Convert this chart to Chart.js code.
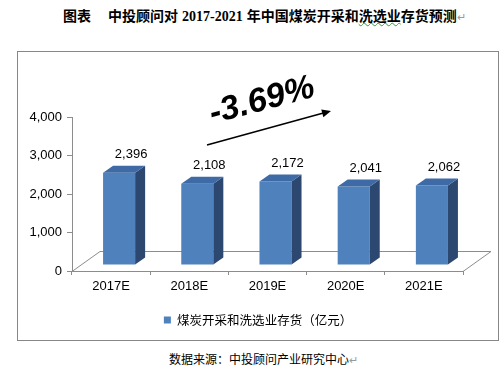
<!DOCTYPE html>
<html>
<head>
<meta charset="utf-8">
<script src="https://cdn.jsdelivr.net/npm/chart.js@4"></script>
<style>
  html, body { margin: 0; padding: 0; background: #fff; }
  body { width: 502px; height: 372px; position: relative; overflow: hidden; }
  #title {
    position: absolute; left: 63px; top: 5px; white-space: nowrap;
    font: bold 14px "Noto Sans CJK SC", sans-serif; color: #000;
  }
  #title .num { font-family: "Liberation Serif", serif; font-weight: bold; margin: 0 4px 0 4px; }
  #title .gap { display: inline-block; width: 17px; }
  #title .wavy { text-decoration: underline wavy #3a9a3a; text-decoration-thickness: 1px; }
  .mark { color: #999; font-weight: normal; font-size: 11px; }
  #frame {
    position: absolute; left: 17px; top: 51px; width: 480px; height: 288px;
    border: 1px solid #878787;
  }
  #source {
    position: absolute; left: 169px; top: 351px; white-space: nowrap;
    font: 12px "Noto Sans CJK SC", sans-serif; color: #000; line-height: 16px;
  }
</style>
</head>
<body>
<div id="title">图表<span class="gap"></span>中投顾问对<span class="num">2017-2021</span>年中国煤炭开采和<span class="wavy">洗选业</span>存货预测<span class="mark">↵</span></div>
<div id="frame"><canvas id="chart" width="480" height="288"></canvas></div>
<div id="source">数据来源：中投顾问产业研究中心<span class="mark">↵</span></div>
<script>
// chart data
const years = ["2017E", "2018E", "2019E", "2020E", "2021E"];
const inventory = [2396, 2108, 2172, 2041, 2062];
const seriesName = "煤炭开采和洗选业存货（亿元）";
const growthLabel = "-3.69%";

// 3D look: bars sit in the middle of the floor depth
const barShift = { x: 8, y: -6 };
const barDepth = { x: 10, y: -7 };
const floorDepth = { x: 28, y: -20 };

const font = "'Liberation Sans', Arial, sans-serif";

const fakeThreeD = {
  id: "fakeThreeD",
  afterLayout(chart) {
    // center legend over the whole canvas, not just the padded area
    chart.legend.left = 0;
    chart.legend.right = chart.width;
  },
  beforeDatasetsDraw(chart) {
    const { ctx, chartArea: a } = chart;
    // floor
    ctx.save();
    ctx.strokeStyle = "#8c8c8c";
    ctx.lineWidth = 1;
    ctx.beginPath();
    ctx.moveTo(a.left, a.bottom + 0.5);
    ctx.lineTo(a.left + floorDepth.x, a.bottom + floorDepth.y + 0.5);
    ctx.lineTo(a.right + floorDepth.x, a.bottom + floorDepth.y + 0.5);
    ctx.lineTo(a.right, a.bottom + 0.5);
    ctx.stroke();
    ctx.restore();

    ctx.save();
    ctx.translate(barShift.x, barShift.y);
  },
  afterDatasetsDraw(chart) {
    const { ctx } = chart;
    const meta = chart.getDatasetMeta(0);
    meta.data.forEach((bar, i) => {
      const l = bar.x - bar.width / 2;
      const r = bar.x + bar.width / 2;
      // side face
      ctx.fillStyle = "#2c4770";
      ctx.beginPath();
      ctx.moveTo(r, bar.y);
      ctx.lineTo(r + barDepth.x, bar.y + barDepth.y);
      ctx.lineTo(r + barDepth.x, bar.base + barDepth.y);
      ctx.lineTo(r, bar.base);
      ctx.closePath();
      ctx.fill();
      // top face
      ctx.fillStyle = "#3e6aa6";
      ctx.beginPath();
      ctx.moveTo(l, bar.y);
      ctx.lineTo(l + barDepth.x, bar.y + barDepth.y);
      ctx.lineTo(r + barDepth.x, bar.y + barDepth.y);
      ctx.lineTo(r, bar.y);
      ctx.closePath();
      ctx.fill();
      // value label
      ctx.fillStyle = "#000";
      ctx.font = "13px " + font;
      ctx.textAlign = "center";
      ctx.textBaseline = "middle";
      ctx.fillText(inventory[i].toLocaleString("en-US"), bar.x + 12, bar.y - 18);
    });
    ctx.restore();

    // growth annotation with arrow
    const x0 = 189, y0 = 93, x1 = 313, y1 = 59;
    const ang = Math.atan2(y1 - y0, x1 - x0);
    ctx.save();
    ctx.strokeStyle = "#000";
    ctx.fillStyle = "#000";
    ctx.lineWidth = 1.5;
    ctx.beginPath();
    ctx.moveTo(x0, y0);
    ctx.lineTo(x1 - 6 * Math.cos(ang), y1 - 6 * Math.sin(ang));
    ctx.stroke();
    ctx.translate(x1, y1);
    ctx.rotate(ang);
    ctx.beginPath();
    ctx.moveTo(0, 0);
    ctx.lineTo(-9, -4);
    ctx.lineTo(-9, 4);
    ctx.closePath();
    ctx.fill();
    ctx.restore();

    ctx.save();
    ctx.translate(244, 49);
    ctx.rotate(-15 * Math.PI / 180);
    ctx.font = "italic bold 34px " + font;
    ctx.textAlign = "center";
    ctx.textBaseline = "middle";
    ctx.fillStyle = "#000";
    ctx.fillText(growthLabel, 0, 0);
    ctx.restore();
  }
};

const barFill = (context) => {
  const { chart } = context;
  const a = chart.chartArea;
  const el = context.element;
  if (!a || !el || !el.width) return "#4f81bd";
  const g = chart.ctx.createLinearGradient(el.x - el.width / 2, 0, el.x + el.width / 2, 0);
  g.addColorStop(0, "#5a8bcc");
  g.addColorStop(1, "#4877b5");
  return g;
};

new Chart(document.getElementById("chart"), {
  type: "bar",
  data: {
    labels: years,
    datasets: [{
      label: seriesName,
      data: inventory,
      backgroundColor: barFill,
      borderWidth: 0,
      categoryPercentage: 1,
      barPercentage: 0.41
    }]
  },
  options: {
    responsive: false,
    animation: false,
    layout: { padding: { left: 0, right: 35, top: 65, bottom: 3.75 } },
    plugins: {
      title: { display: false },
      tooltip: { enabled: false },
      legend: {
        position: "bottom",
        labels: {
          boxWidth: 7,
          boxHeight: 7,
          padding: 10,
          color: "#000",
          font: { family: "'Noto Sans CJK SC', sans-serif", size: 12.5 },
          generateLabels: () => [{
            text: seriesName,
            fillStyle: "#4f81bd",
            strokeStyle: "#4f81bd",
            lineWidth: 0
          }]
        }
      }
    },
    scales: {
      x: {
        afterFit: (s) => { s.height = 32.75; },
        grid: {
          display: true,
          drawOnChartArea: false,
          tickLength: 4,
          color: "#8c8c8c"
        },
        border: { color: "#8c8c8c" },
        ticks: { color: "#000", padding: 4, font: { family: font, size: 13 } }
      },
      y: {
        min: 0,
        max: 4000,
        afterFit: (s) => { s.width = 54; },
        grid: {
          display: true,
          drawOnChartArea: false,
          tickLength: 5,
          color: "#8c8c8c"
        },
        border: { color: "#8c8c8c" },
        ticks: {
          stepSize: 1000,
          color: "#000",
          padding: 5,
          font: { family: font, size: 13 },
          callback: (v) => v.toLocaleString("en-US")
        }
      }
    }
  },
  plugins: [fakeThreeD]
});
</script>
</body>
</html>
